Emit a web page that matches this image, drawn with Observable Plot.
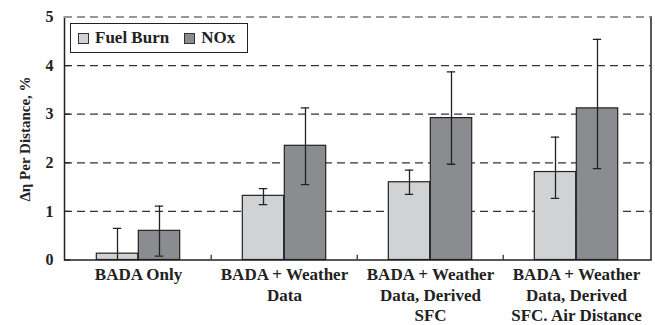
<!DOCTYPE html>
<html>
<head>
<meta charset="utf-8">
<script src="https://cdn.jsdelivr.net/npm/d3@7"></script>
<script src="https://cdn.jsdelivr.net/npm/@observablehq/plot@0.6"></script>
<style>
  html, body { margin: 0; padding: 0; background: #fff; }
  #wrap { position: relative; width: 655px; height: 325px; }
  #legend {
    position: absolute; left: 70px; top: 23px; width: 176px; height: 28px;
    border: 1px solid #222; background: #fff; box-sizing: content-box;
    font-weight: bold; font-size: 17px; color: #222;
    display: flex; align-items: center; gap: 0;
  }
  .sw { display: inline-block; width: 9px; height: 9px; border: 1px solid #333; margin: 0 6px 0 7px; }
  .sw.second { margin-left: 15px; }
  #ylabel {
    position: absolute; left: 25px; top: 139px;
    transform: translate(-50%, -50%) rotate(-90deg);
    white-space: nowrap; font-weight: bold; font-size: 15px; color: #222;
  }
</style>
</head>
<body>
<div id="wrap"></div>
<script>
// Relative change in efficiency per distance by model setup
const categories = [
  "BADA Only",
  "BADA + Weather\nData",
  "BADA + Weather\nData, Derived\nSFC",
  "BADA + Weather\nData, Derived\nSFC. Air Distance"
];
const seriesNames = ["Fuel Burn", "NOx"];
const fuelBurn = [0.13, 1.32, 1.60, 1.81];
const fuelLow = [-0.38, 1.14, 1.35, 1.27];
const fuelHigh = [0.65, 1.47, 1.85, 2.53];
const nox = [0.60, 2.35, 2.92, 3.12];
const noxLow = [0.08, 1.55, 1.97, 1.88];
const noxHigh = [1.11, 3.13, 3.87, 4.54];
const yTicks = [0, 1, 2, 3, 4, 5];
const gridTicks = [1, 2, 3, 4];
const yLabel = "Δη Per Distance, %";

const colors = {fuel: "#d1d2d4", nox: "#8b8c90", edge: "#222"};
const serif = "'Liberation Serif', serif";

const fuelRows = categories.map((c, i) => ({cat: c, v: fuelBurn[i], lo: fuelLow[i], hi: fuelHigh[i]}));
const noxRows = categories.map((c, i) => ({cat: c, v: nox[i], lo: noxLow[i], hi: noxHigh[i]}));

const W = 655, H = 325;
const mL = 64, mR = 4.5, mT = 16.5, mB = 65.5;
const plotW = W - mL - mR;
const bw = plotW / categories.length;   // category band width
const half = bw / 2;
const barW = 42;                          // bar width within a category
const capW = 9;                           // error cap width

function capInsets(offset) {
  // offset: bar centre relative to band centre
  return {insetLeft: half + offset - capW / 2, insetRight: half - offset - capW / 2};
}

const chart = Plot.plot({
  width: W, height: H,
  marginLeft: mL, marginRight: mR, marginTop: mT, marginBottom: mB,
  style: {fontFamily: serif, fontWeight: "bold", color: "#222", background: "#fff"},
  x: {domain: categories, padding: 0},
  y: {domain: [0, 5]},
  marks: [
    Plot.ruleY(gridTicks, {stroke: "#333", strokeWidth: 1.2, strokeDasharray: "8,5"}),
    Plot.barY(fuelRows, {x: "cat", y: "v", fill: colors.fuel, stroke: colors.edge, strokeWidth: 1.2,
      insetLeft: half - barW, insetRight: half}),
    Plot.barY(noxRows, {x: "cat", y: "v", fill: colors.nox, stroke: colors.edge, strokeWidth: 1.2,
      insetLeft: half, insetRight: half - barW}),
    Plot.ruleX(fuelRows, {x: "cat", y1: "lo", y2: "hi", dx: -barW / 2, stroke: "#222", strokeWidth: 1.3, clip: true}),
    Plot.ruleX(noxRows, {x: "cat", y1: "lo", y2: "hi", dx: barW / 2, stroke: "#222", strokeWidth: 1.3, clip: true}),
    Plot.tickY(fuelRows, {x: "cat", y: "lo", stroke: "#222", strokeWidth: 1.3, clip: true, ...capInsets(-barW / 2)}),
    Plot.tickY(fuelRows, {x: "cat", y: "hi", stroke: "#222", strokeWidth: 1.3, clip: true, ...capInsets(-barW / 2)}),
    Plot.tickY(noxRows, {x: "cat", y: "lo", stroke: "#222", strokeWidth: 1.3, clip: true, ...capInsets(barW / 2)}),
    Plot.tickY(noxRows, {x: "cat", y: "hi", stroke: "#222", strokeWidth: 1.3, clip: true, ...capInsets(barW / 2)}),
    // category separators along the baseline
    Plot.ruleX(categories.slice(1), {x: d => d, dx: -half, y1: 0, y2: 0.1, stroke: "#222", strokeWidth: 1.2}),
    // inward y ticks
    Plot.ruleY(yTicks, {stroke: "#222", strokeWidth: 1.2, insetRight: plotW - 6}),
    Plot.frame({stroke: "#222", strokeWidth: 1.5}),
    Plot.ruleY([5], {stroke: "#fff", strokeWidth: 2}),
    Plot.ruleY([5], {stroke: "#333", strokeWidth: 1.2, strokeDasharray: "8,5"}),
    Plot.axisY(yTicks, {tickSize: 0, tickPadding: 11, fontSize: 16, label: null}),
    Plot.axisX({tickSize: 0, tickPadding: 6, fontSize: 17, lineHeight: 1.2, label: null})
  ]
});

const wrap = document.getElementById("wrap");
wrap.appendChild(chart);

const legend = document.createElement("div");
legend.id = "legend";
legend.innerHTML =
  `<span class="sw" style="background:${colors.fuel}"></span><span>${seriesNames[0]}</span>` +
  `<span class="sw second" style="background:${colors.nox}"></span><span>${seriesNames[1]}</span>`;
wrap.appendChild(legend);

// rotated y-axis title beside the tick labels
const title = document.createElement("div");
title.id = "ylabel";
title.textContent = yLabel;
wrap.appendChild(title);

// serif face throughout, set on each element so it wins over inherited styles
for (const el of [chart, legend, title, ...chart.querySelectorAll("g, text, tspan"), ...legend.querySelectorAll("span")]) {
  el.style.setProperty("font-family", serif, "important");
}
</script>
</body>
</html>
